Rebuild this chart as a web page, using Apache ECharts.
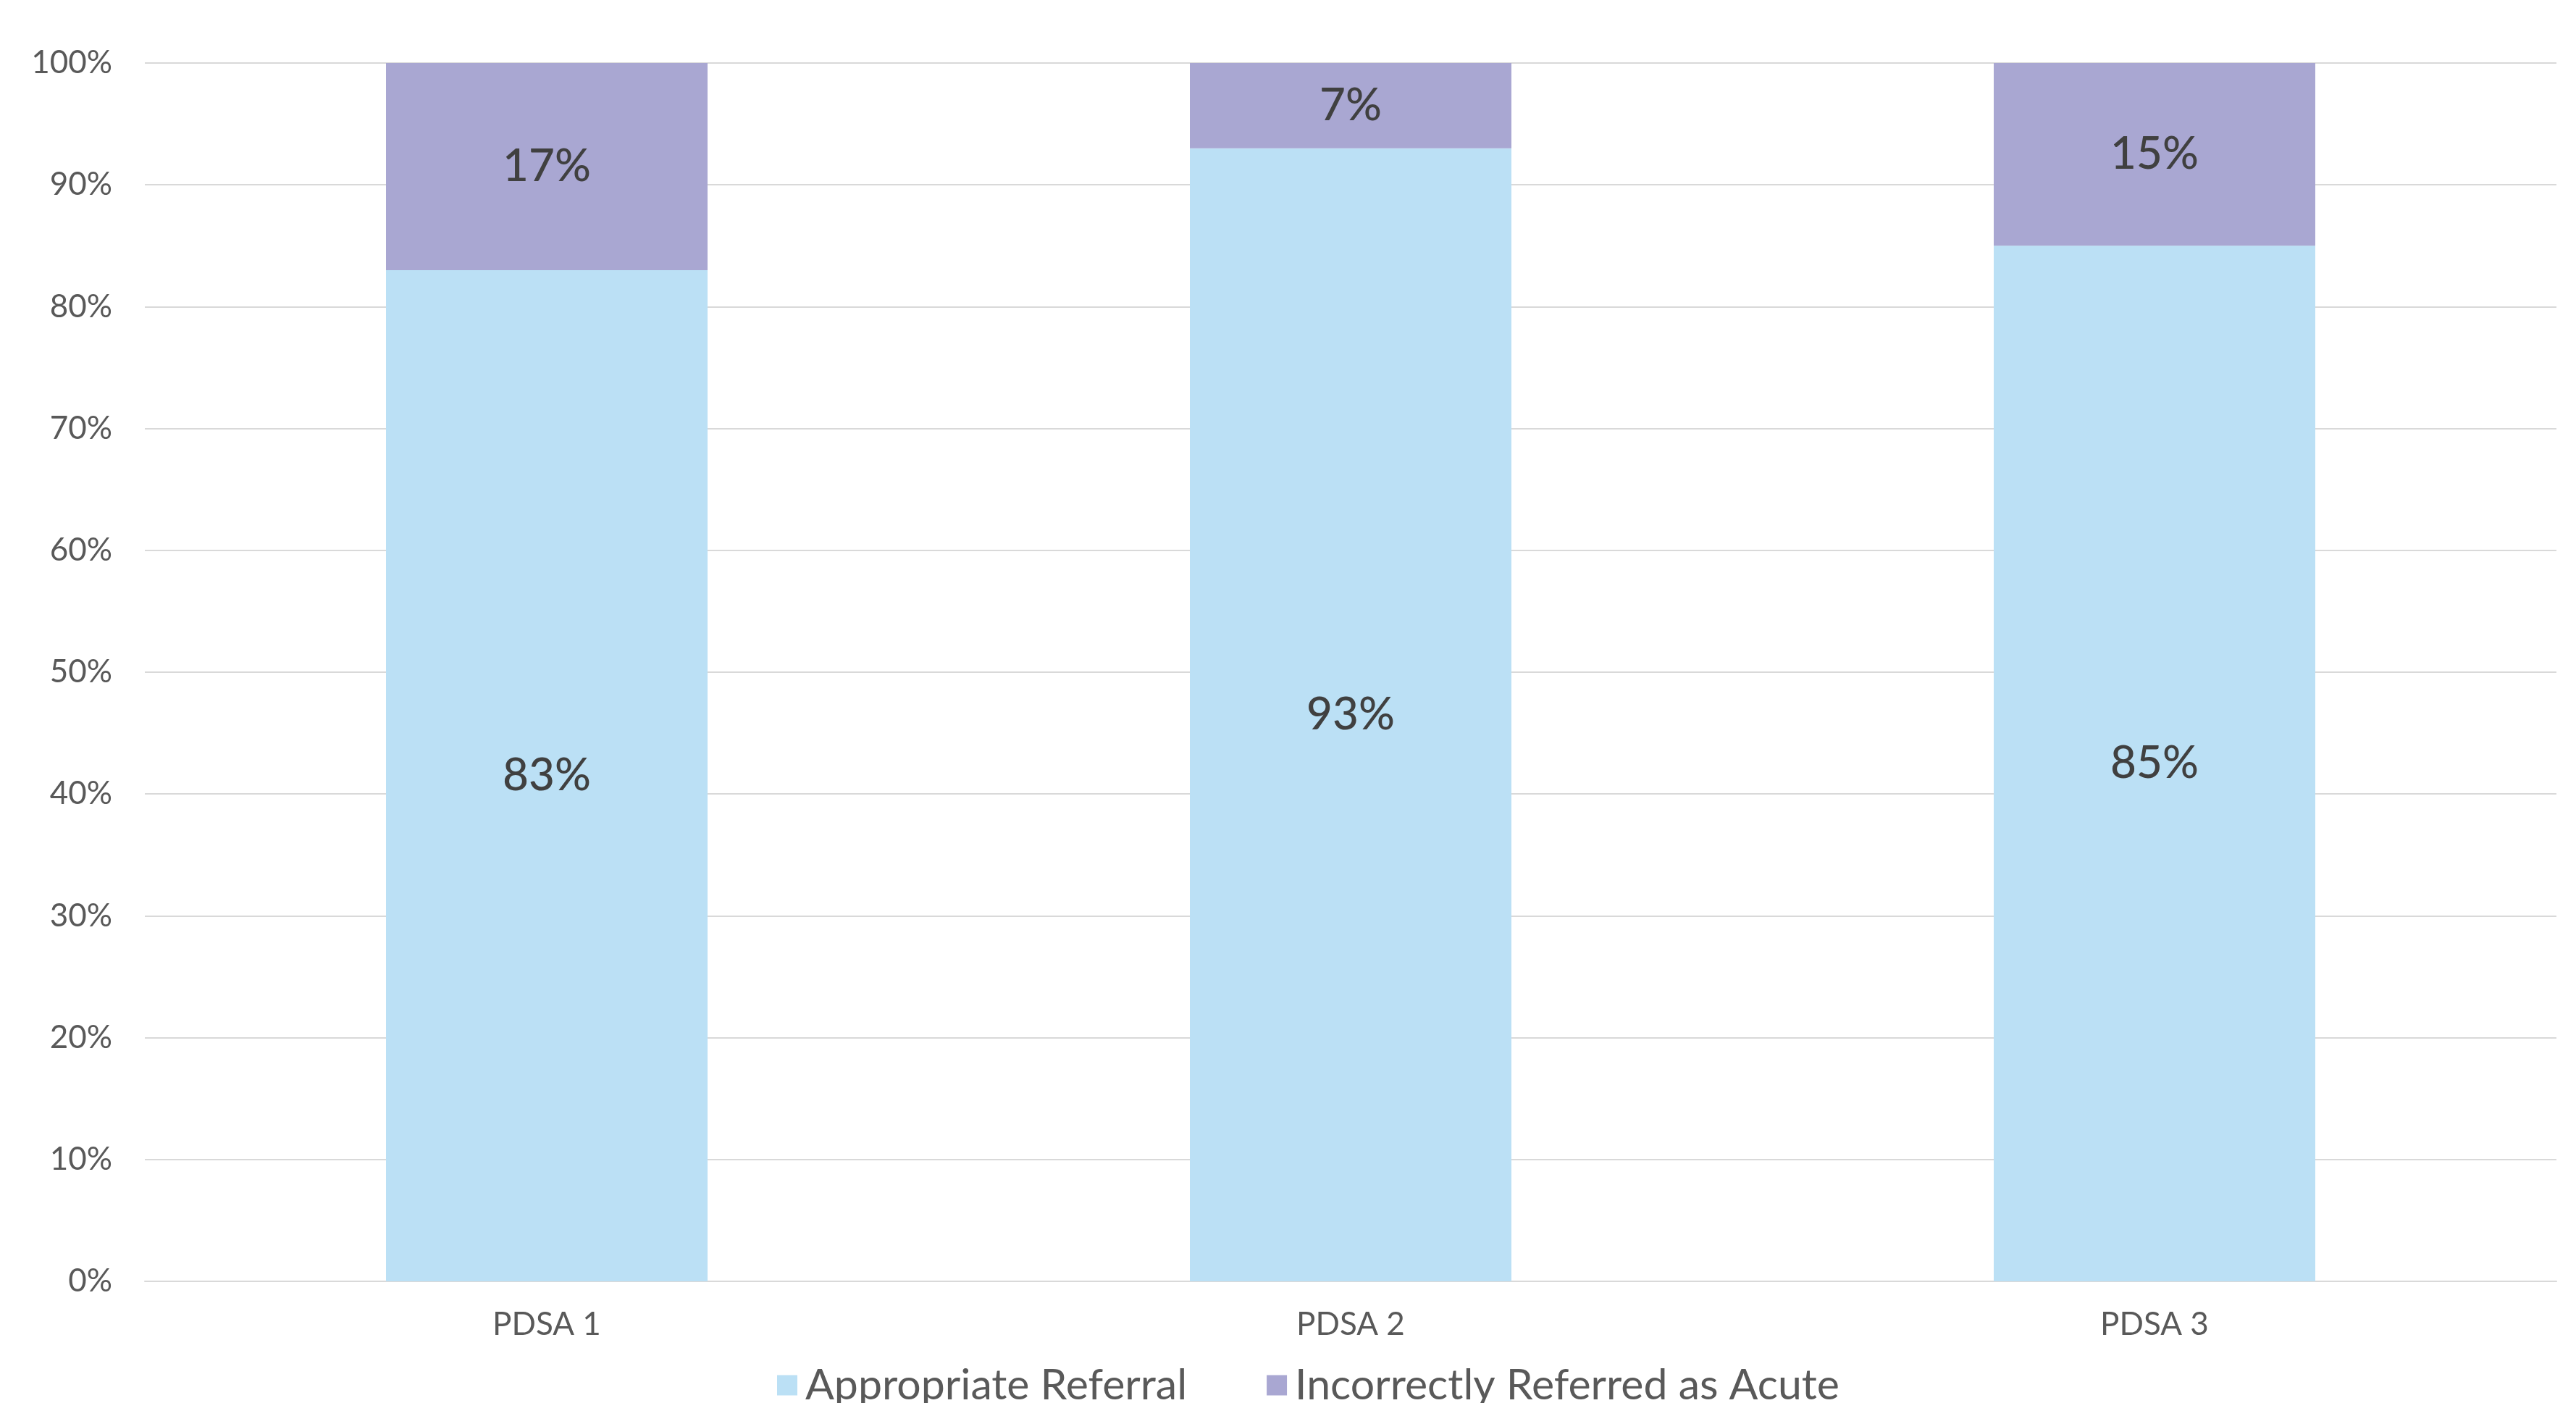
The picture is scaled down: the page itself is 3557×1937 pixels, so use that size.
<!DOCTYPE html>
<html>
<head>
<meta charset="utf-8">
<script src="https://cdn.jsdelivr.net/npm/echarts@6/dist/echarts.min.js"></script>
<style>
  html, body { margin: 0; padding: 0; background: #ffffff; }
  #chart { width: 3557px; height: 1937px; }
</style>
</head>
<body>
<div id="chart"></div>
<script>
// Referral outcomes per PDSA cycle (percent of referrals)
const categories = ['PDSA 1', 'PDSA 2', 'PDSA 3'];
const appropriateReferral = [83, 93, 85];
const incorrectlyReferredAsAcute = [17, 7, 15];
const seriesNames = ['Appropriate Referral', 'Incorrectly Referred as Acute'];

const FONT = 'Lato, "Noto Sans", sans-serif';

const chart = echarts.init(document.getElementById('chart'), null, { renderer: 'canvas' });

const labelStyle = {
  show: true,
  position: 'inside',
  formatter: p => p.value + '%',
  color: '#404040',
  fontFamily: FONT,
  fontSize: 62,
  fontWeight: 500
};

chart.setOption({
  backgroundColor: '#ffffff',
  animation: false,
  grid: { left: 200, right: 27, top: 87, bottom: 168, containLabel: false },
  legend: {
    top: 1878,
    left: 1068,
    itemWidth: 28,
    itemHeight: 28,
    itemGap: 110,
    icon: 'rect',
    textStyle: { color: '#595959', fontFamily: FONT, fontSize: 59, padding: [0, 0, 0, 6] },
    data: seriesNames
  },
  xAxis: {
    type: 'category',
    data: categories,
    axisLine: { lineStyle: { color: '#D9D9D9', width: 2 } },
    axisTick: { show: false },
    axisLabel: { color: '#595959', fontFamily: FONT, fontSize: 44, margin: 38 }
  },
  yAxis: {
    type: 'value',
    min: 0,
    max: 100,
    interval: 10,
    axisLine: { show: false },
    axisTick: { show: false },
    splitLine: { lineStyle: { color: '#D9D9D9', width: 2 } },
    axisLabel: { color: '#595959', fontFamily: FONT, fontSize: 44, margin: 45, formatter: v => v + '%' }
  },
  series: [
    {
      name: seriesNames[0],
      type: 'bar',
      stack: 'total',
      barWidth: '40%',
      itemStyle: { color: '#BBE0F5' },
      label: labelStyle,
      data: appropriateReferral
    },
    {
      name: seriesNames[1],
      type: 'bar',
      stack: 'total',
      barWidth: '40%',
      itemStyle: { color: '#A9A7D2' },
      label: labelStyle,
      data: incorrectlyReferredAsAcute
    }
  ]
});
</script>
</body>
</html>
